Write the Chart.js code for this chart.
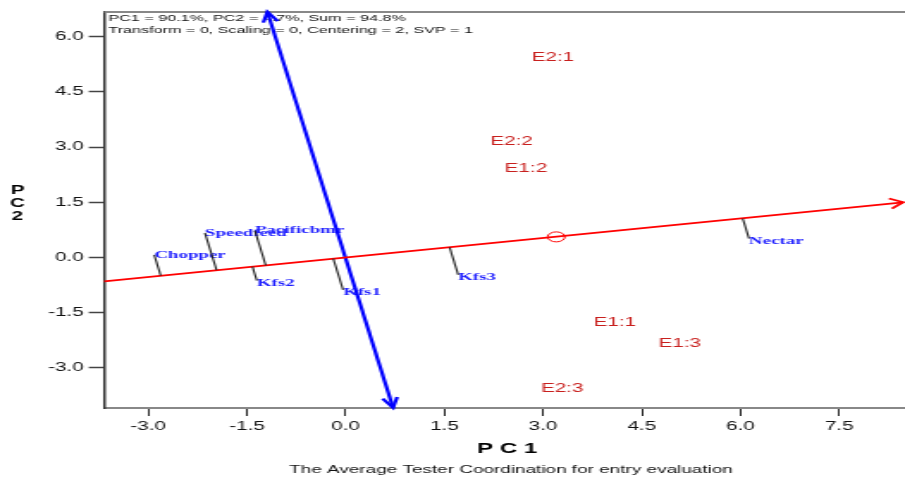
<!DOCTYPE html>
<html lang="en">
<head>
    <meta charset="UTF-8">
    <title>Average Tester Coordination</title>
    <script src="https://cdn.jsdelivr.net/npm/chart.js"></script>
    <style>
        body {
            margin: 0;
            background: #fff;
            overflow: hidden;
        }
        /* the original picture is stretched sideways, so the chart is drawn narrow and widened */
        #biplot {
            transform: scaleX(1.7205);
            transform-origin: 0 0;
        }
    </style>
</head>
<body>
    <canvas id="biplot" width="526" height="478"></canvas>

    <script>
        // entries (blue) and testers (red), PC1 / PC2 scores
        const genotypes = ['Chopper', 'Speedfeed', 'Pacificbmr', 'Kfs2', 'Kfs1', 'Kfs3', 'Nectar'];
        const genoPC1 = [-2.91, -2.14, -1.38, -1.35, -0.04, 1.71, 6.13];
        const genoPC2 = [0.07, 0.67, 0.73, -0.63, -0.88, -0.47, 0.51];

        const envs = ['E2:1', 'E2:2', 'E1:2', 'E1:1', 'E1:3', 'E2:3'];
        const envPC1 = [3.15, 2.52, 2.74, 4.09, 5.08, 3.29];
        const envPC2 = [5.42, 3.14, 2.41, -1.76, -2.33, -3.55];

        // average tester and the two ATC lines
        const avgEnv = [3.20, 0.56];
        const atcX = [-3.67, 8.47];
        const atcY = [-0.65, 1.50];
        const ordX = [-1.19, 0.72];
        const ordY = [6.67, -4.08];

        const xTicks = [-3.0, -1.5, 0.0, 1.5, 3.0, 4.5, 6.0, 7.5];
        const yTicks = [-3.0, -1.5, 0.0, 1.5, 3.0, 4.5, 6.0];

        const infoLines = [
            'PC1 = 90.1%, PC2 = 4.7%, Sum = 94.8%',
            'Transform = 0, Scaling = 0, Centering = 2, SVP = 1'
        ];

        // foot of each entry on the average tester axis
        function projectOnAxis(px, py) {
            const dx = avgEnv[0], dy = avgEnv[1];
            const t = (px * dx + py * dy) / (dx * dx + dy * dy);
            return { x: t * dx, y: t * dy };
        }

        const datasets = [];

        genotypes.forEach((g, i) => {
            datasets.push({
                label: g,
                data: [{ x: genoPC1[i], y: genoPC2[i] }, projectOnAxis(genoPC1[i], genoPC2[i])],
                showLine: true,
                borderColor: '#222',
                borderWidth: 1.1,
                pointRadius: 0
            });
        });

        datasets.push({
            label: 'testers',
            data: envs.map((e, i) => ({ x: envPC1[i], y: envPC2[i] })),
            pointRadius: 0
        });

        datasets.push({
            label: 'ATC abscissa',
            data: atcX.map((v, i) => ({ x: v, y: atcY[i] })),
            showLine: true,
            borderColor: '#ff0000',
            borderWidth: 1.8,
            pointRadius: 0,
            clip: false
        });

        datasets.push({
            label: 'ATC ordinate',
            data: ordX.map((v, i) => ({ x: v, y: ordY[i] })),
            showLine: true,
            borderColor: '#0000ff',
            borderWidth: 2.2,
            pointRadius: 0,
            clip: false
        });

        datasets.push({
            label: 'average tester',
            data: [{ x: avgEnv[0], y: avgEnv[1] }],
            pointRadius: 5,
            pointBorderColor: '#ff0000',
            pointBorderWidth: 1,
            pointBackgroundColor: 'rgba(0,0,0,0)'
        });

        function arrowHead(ctx, x0, y0, x1, y1, len, spread) {
            const a = Math.atan2(y0 - y1, x0 - x1);
            ctx.beginPath();
            ctx.moveTo(x1 + len * Math.cos(a - spread), y1 + len * Math.sin(a - spread));
            ctx.lineTo(x1, y1);
            ctx.lineTo(x1 + len * Math.cos(a + spread), y1 + len * Math.sin(a + spread));
            ctx.stroke();
        }

        const textPlugin = {
            id: 'biplotText',
            beforeDatasetsDraw(chart) {
                const { ctx, chartArea, scales: { x, y } } = chart;
                ctx.save();

                // top frame line
                ctx.strokeStyle = '#888';
                ctx.lineWidth = 2;
                ctx.beginPath();
                ctx.moveTo(chartArea.left, chartArea.top);
                ctx.lineTo(chartArea.right, chartArea.top);
                ctx.stroke();

                ctx.fillStyle = '#111';
                ctx.font = '9.4px "Liberation Sans", Arial, sans-serif';
                ctx.textAlign = 'left';
                ctx.textBaseline = 'middle';
                infoLines.forEach((t, i) => ctx.fillText(t, chartArea.left + 2.5, 18 + i * 12));

                // entry names
                ctx.fillStyle = '#1f1fff';
                ctx.font = 'bold 11px "Liberation Serif", "Times New Roman", serif';
                genotypes.forEach((g, i) => {
                    const below = genoPC2[i] < projectOnAxis(genoPC1[i], genoPC2[i]).y;
                    ctx.fillText(g, x.getPixelForValue(genoPC1[i]), y.getPixelForValue(genoPC2[i]) + (below ? 2 : 0));
                });

                // tester names
                ctx.fillStyle = '#c8201e';
                ctx.font = '12px "Liberation Sans", Arial, sans-serif';
                ctx.textAlign = 'center';
                envs.forEach((e, i) => ctx.fillText(e, x.getPixelForValue(envPC1[i]), y.getPixelForValue(envPC2[i])));

                ctx.restore();
            },
            afterDatasetsDraw(chart) {
                const { ctx, scales: { x, y } } = chart;
                ctx.save();
                ctx.lineWidth = 1.8;
                ctx.strokeStyle = '#ff0000';
                arrowHead(ctx, x.getPixelForValue(atcX[0]), y.getPixelForValue(atcY[0]),
                    x.getPixelForValue(atcX[1]), y.getPixelForValue(atcY[1]), 9, 0.6);

                ctx.lineWidth = 2.2;
                ctx.strokeStyle = '#0000ff';
                const bx0 = x.getPixelForValue(ordX[0]), by0 = y.getPixelForValue(ordY[0]);
                const bx1 = x.getPixelForValue(ordX[1]), by1 = y.getPixelForValue(ordY[1]);
                arrowHead(ctx, bx1, by1, bx0, by0, 11, 0.4);
                arrowHead(ctx, bx0, by0, bx1, by1, 11, 0.4);
                ctx.restore();
            },
            afterDraw(chart) {
                const { ctx } = chart;
                ctx.save();
                ctx.fillStyle = '#000';
                ctx.textAlign = 'center';
                ctx.textBaseline = 'middle';
                ctx.font = 'bold 14px "Liberation Sans", Arial, sans-serif';
                ctx.fillText('P C 1', 294.7, 449);
                ctx.font = 'bold 12px "Liberation Sans", Arial, sans-serif';
                ['P', 'C', '2'].forEach((c, i) => ctx.fillText(c, 10.2, 191 + i * 13));
                ctx.fillStyle = '#111';
                ctx.font = '11px "Liberation Sans", Arial, sans-serif';
                ctx.fillText('The Average Tester Coordination for entry evaluation', 297, 470);
                ctx.restore();
            }
        };

        const tickFont = { family: '"Liberation Sans", Arial, sans-serif', size: 12 };

        new Chart(document.getElementById('biplot'), {
            type: 'scatter',
            data: { datasets: datasets },
            options: {
                responsive: false,
                animation: false,
                layout: { autoPadding: false, padding: { top: 12, right: 0, bottom: 0, left: 0 } },
                plugins: {
                    legend: { display: false },
                    tooltip: { enabled: false }
                },
                scales: {
                    x: {
                        type: 'linear',
                        min: -3.669,
                        max: 8.50,
                        afterBuildTicks: s => { s.ticks = xTicks.map(v => ({ value: v })); },
                        afterFit: s => { s.height = 70; },
                        ticks: {
                            callback: v => v.toFixed(1),
                            font: tickFont,
                            color: '#111',
                            padding: 3,
                            maxRotation: 0,
                            autoSkip: false
                        },
                        grid: { drawOnChartArea: false, tickLength: 8, color: '#222', tickWidth: 1 },
                        border: { color: '#888', width: 2 }
                    },
                    y: {
                        type: 'linear',
                        min: -4.087,
                        max: 6.667,
                        afterBuildTicks: s => { s.ticks = yTicks.map(v => ({ value: v })); },
                        afterFit: s => { s.width = 60.6; },
                        ticks: {
                            callback: v => v.toFixed(1),
                            font: tickFont,
                            color: '#111',
                            padding: 3,
                            autoSkip: false
                        },
                        grid: { drawOnChartArea: false, tickLength: 9, color: '#444', tickWidth: 1.5 },
                        border: { color: '#333', width: 1.5 }
                    }
                }
            },
            plugins: [textPlugin]
        });
    </script>
</body>
</html>
